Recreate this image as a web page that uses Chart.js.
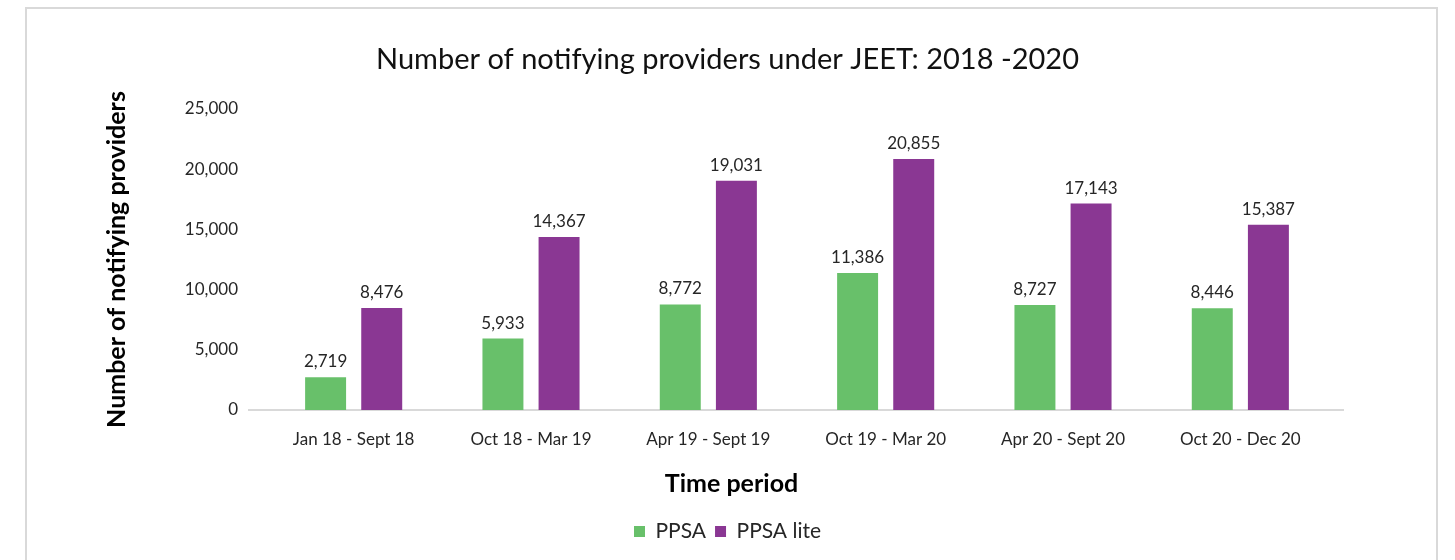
<!DOCTYPE html>
<html>
<head>
<meta charset="utf-8">
<script src="https://cdn.jsdelivr.net/npm/chart.js@4"></script>
<style>
  body { margin: 0; background: #fff; overflow: hidden; }
  .frame { position: absolute; left: 25px; top: 7px; width: 1409px; height: 600px; border: 2px solid #d9d9d9; }
  canvas { position: absolute; left: 0; top: 0; }
</style>
</head>
<body>
<div class="frame"></div>
<canvas id="providersChart" width="1455" height="560"></canvas>
<script>
// data
var periods = ["Jan 18 - Sept 18", "Oct 18 - Mar 19", "Apr 19 - Sept 19", "Oct 19 - Mar 20", "Apr 20 - Sept 20", "Oct 20 - Dec 20"];
var ppsa = [2719, 5933, 8772, 11386, 8727, 8446];
var ppsaLite = [8476, 14367, 19031, 20855, 17143, 15387];
var yTicks = [0, 5000, 10000, 15000, 20000, 25000];

var fmt = function (v) { return Number(v).toLocaleString("en-US"); };

// value labels above the bars
var barLabels = {
  id: "barLabels",
  afterDatasetsDraw: function (chart) {
    var ctx = chart.ctx;
    ctx.save();
    ctx.font = "17px Lato";
    ctx.fillStyle = "#262626";
    ctx.textAlign = "center";
    ctx.textBaseline = "bottom";
    chart.data.datasets.forEach(function (ds, i) {
      chart.getDatasetMeta(i).data.forEach(function (bar, j) {
        ctx.fillText(fmt(ds.data[j]), bar.x, bar.y - 7);
      });
    });
    ctx.restore();
  }
};

// baseline a bit wider than the plot, plus the x axis title centred on the page
var extras = {
  id: "extras",
  beforeDatasetsDraw: function (chart) {
    var ctx = chart.ctx;
    var y = chart.scales.y.getPixelForValue(0);
    ctx.save();
    ctx.strokeStyle = "#d9d9d9";
    ctx.lineWidth = 2;
    ctx.beginPath();
    ctx.moveTo(chart.chartArea.left - 17, y);
    ctx.lineTo(chart.chartArea.right + 15, y);
    ctx.stroke();
    ctx.restore();
  },
  afterDraw: function (chart) {
    var ctx = chart.ctx;
    ctx.save();
    ctx.font = "bold 25px Lato";
    ctx.fillStyle = "#000";
    ctx.textAlign = "center";
    ctx.textBaseline = "middle";
    ctx.fillText("Time period", chart.width / 2 + 4, chart.scales.x.bottom - 28);
    ctx.restore();
  }
};

var ctx = document.getElementById("providersChart").getContext("2d");
var chart = new Chart(ctx, {
  type: "bar",
  data: {
    labels: periods,
    datasets: [
      {
        label: "PPSA",
        data: ppsa,
        backgroundColor: "#68c06a",
        categoryPercentage: 0.633,
        barPercentage: 0.73
      },
      {
        label: "PPSA lite",
        data: ppsaLite,
        backgroundColor: "#8a3793",
        categoryPercentage: 0.633,
        barPercentage: 0.73
      }
    ]
  },
  options: {
    responsive: false,
    animation: false,
    layout: { padding: { left: 0, right: 0, top: 0, bottom: 8 } },
    plugins: {
      title: {
        display: true,
        text: "Number of notifying providers under JEET: 2018 -2020",
        color: "#111",
        font: { family: "Lato", size: 29, weight: "normal" },
        padding: { top: 42.6, bottom: 31.6 }
      },
      legend: {
        position: "bottom",
        labels: {
          color: "#262626",
          font: { family: "Lato", size: 21 },
          boxWidth: 11,
          boxHeight: 11,
          padding: 9
        }
      },
      tooltip: { enabled: false }
    },
    scales: {
      x: {
        grid: { display: false, drawTicks: false },
        border: { display: false },
        ticks: { color: "#262626", font: { family: "Lato", size: 17 }, padding: 19, maxRotation: 0 },
        afterFit: function (scale) { scale.height = 102; }
      },
      y: {
        min: 0,
        max: 25000,
        afterBuildTicks: function (scale) {
          scale.ticks = yTicks.map(function (v) { return { value: v }; });
        },
        grid: { display: false, drawTicks: false },
        border: { display: false },
        ticks: { color: "#262626", font: { family: "Lato", size: 17 }, padding: 27, callback: fmt },
        title: {
          display: true,
          text: "Number of notifying providers",
          color: "#000",
          font: { family: "Lato", size: 25, weight: "bold" },
          padding: { top: 102, bottom: 0 }
        },
        afterFit: function (scale) { scale.width = 265; }
      },
      // empty right-hand space so the title and legend stay centred on the page
      yRight: {
        type: "linear",
        position: "right",
        grid: { display: false, drawTicks: false },
        border: { display: false },
        ticks: { display: false },
        afterFit: function (scale) { scale.width = 126; }
      }
    }
  },
  plugins: [barLabels, extras]
});
</script>
</body>
</html>
